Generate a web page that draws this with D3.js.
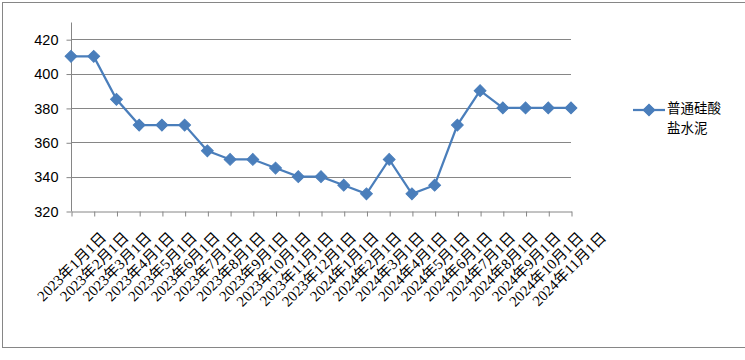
<!DOCTYPE html>
<html>
<head>
<meta charset="utf-8">
<script src="https://cdn.jsdelivr.net/npm/d3@7"></script>
<style>
  body { margin: 0; background: #fff; }
</style>
</head>
<body>
<div id="content"></div>
<script>
// datas
const months = ["2023年1月1日", "2023年2月1日", "2023年3月1日", "2023年4月1日", "2023年5月1日",
  "2023年6月1日", "2023年7月1日", "2023年8月1日", "2023年9月1日", "2023年10月1日",
  "2023年11月1日", "2023年12月1日", "2024年1月1日", "2024年2月1日", "2024年3月1日",
  "2024年4月1日", "2024年5月1日", "2024年6月1日", "2024年7月1日", "2024年8月1日",
  "2024年9月1日", "2024年10月1日", "2024年11月1日"];
const cementPrice = [410, 410, 385, 370, 370, 370, 355, 350, 350, 345, 340, 340, 335,
  330, 350, 330, 335, 370, 390, 380, 380, 380, 380];
const yTicks = [320, 340, 360, 380, 400, 420];
const seriesName = ["普通硅酸", "盐水泥"];

// view
const w = 745;
const h = 360;
const blue = "#4a7ebb";
const grey = "#868686";

const svg = d3.select("#content")
  .append("svg")
  .attr("width", w)
  .attr("height", h);

// chart border
svg.append("rect")
  .attr("x", 2.5).attr("y", 2.5)
  .attr("width", 743).attr("height", 345)
  .attr("fill", "none")
  .attr("stroke", grey);

const x = d3.scalePoint().domain(months).range([71, 571]);
const y = d3.scaleLinear().domain([320, 430]).range([211, 22]);

// grid
svg.selectAll("line.grid")
  .data(yTicks.slice(1))
  .enter()
  .append("line")
  .attr("class", "grid")
  .attr("x1", 71).attr("x2", 571)
  .attr("y1", d => Math.round(y(d)) + 0.5)
  .attr("y2", d => Math.round(y(d)) + 0.5)
  .attr("stroke", grey);

// y axis
const yAxis = svg.append("g")
  .attr("transform", "translate(71.5,0.5)")
  .call(d3.axisLeft(y).tickValues(yTicks).tickSize(5).tickPadding(8));
yAxis.select(".domain").attr("stroke", grey).attr("d", `M0,${y(430)}V${y(320)}`);
yAxis.selectAll(".tick line").attr("stroke", grey);
yAxis.selectAll("text")
  .attr("fill", "#000")
  .style("font-family", "'Liberation Sans', Arial, sans-serif")
  .style("font-size", "14.5px");

// x axis
const xAxis = svg.append("g")
  .attr("transform", `translate(0.5,${Math.round(y(320)) + 0.5})`)
  .call(d3.axisBottom(x).tickSize(5).tickSizeOuter(0));
xAxis.select(".domain").attr("stroke", grey);
xAxis.selectAll(".tick line").attr("stroke", grey);
xAxis.selectAll("text")
  .attr("fill", "#000")
  .attr("text-anchor", "end")
  .attr("dy", null)
  .attr("y", null)
  .attr("transform", "translate(35,27) rotate(-45)")
  .style("font-family", "'Liberation Serif', 'Noto Sans CJK SC', serif")
  .style("font-size", "15px");

// line
const line = d3.line()
  .x((d, i) => x(months[i]))
  .y(d => y(d));

svg.append("path")
  .datum(cementPrice)
  .attr("d", line)
  .attr("fill", "none")
  .attr("stroke", blue)
  .attr("stroke-width", 2.25);

const diamond = d3.symbol().type(d3.symbolSquare).size(70);

svg.selectAll("path.marker")
  .data(cementPrice)
  .enter()
  .append("path")
  .attr("class", "marker")
  .attr("d", diamond)
  .attr("transform", (d, i) => `translate(${x(months[i])},${y(d)}) rotate(45)`)
  .attr("fill", blue)
  .attr("stroke", blue);

// legend
const legend = svg.append("g");
legend.append("line")
  .attr("x1", 633).attr("x2", 665)
  .attr("y1", 110).attr("y2", 110)
  .attr("stroke", blue)
  .attr("stroke-width", 2.25);
legend.append("path")
  .attr("d", diamond)
  .attr("transform", "translate(649,110) rotate(45)")
  .attr("fill", blue)
  .attr("stroke", blue);
legend.selectAll("text")
  .data(seriesName)
  .enter()
  .append("text")
  .attr("x", 667)
  .attr("y", (d, i) => 113 + i * 19.7)
  .text(d => d)
  .style("font-family", "'Noto Sans CJK SC', sans-serif")
  .style("font-size", "13.5px");
</script>
</body>
</html>
